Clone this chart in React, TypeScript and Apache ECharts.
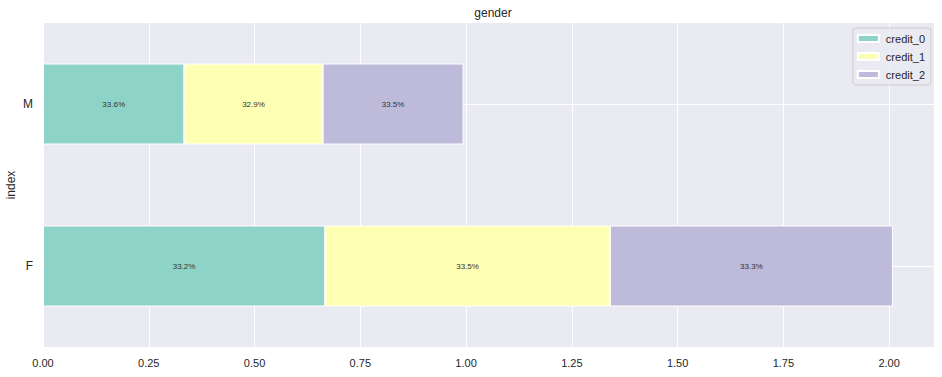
import React, { useEffect, useRef } from "react";
import * as echarts from "echarts";

const categories = ["F", "M"];
const seriesNames = ["credit_0", "credit_1", "credit_2"];
const credit0 = [0.667, 0.334];
const credit1 = [0.673, 0.327];
const credit2 = [0.669, 0.333];
const pct0 = ["33.2%", "33.6%"];
const pct1 = ["33.5%", "32.9%"];
const pct2 = ["33.3%", "33.5%"];
const xTicks = [0, 0.25, 0.5, 0.75, 1.0, 1.25, 1.5, 1.75, 2.0];
const colors = ["#8dd3c7", "#ffffb3", "#bebada"];

const FONT = "Liberation Sans";

export default function App() {
  const ref = useRef<HTMLDivElement>(null);
  useEffect(() => {
    document.body.style.margin = "0";
    const chart = echarts.init(ref.current!, null, { renderer: "svg" });
    const values = [credit0, credit1, credit2];
    const pcts = [pct0, pct1, pct2];
    chart.setOption({
      animation: false,
      textStyle: { fontFamily: FONT },
      title: {
        text: "gender",
        left: 488,
        textAlign: "center",
        top: 2,
        textStyle: { fontSize: 12, fontWeight: "normal", color: "#262626", fontFamily: FONT },
      },
      legend: {
        orient: "vertical",
        right: 11,
        top: 28,
        itemWidth: 21,
        itemHeight: 7,
        itemGap: 7,
        padding: [5, 6, 5, 4],
        backgroundColor: "rgba(234,234,242,0.8)",
        borderColor: "#cccccc",
        borderWidth: 1,
        borderRadius: 3,
        icon: "rect",
        textStyle: { fontSize: 11, color: "#262626", fontFamily: FONT, padding: [0, 0, 0, 2] },
        data: seriesNames,
      },
      grid: {
        left: 43,
        right: 8,
        top: 23,
        bottom: 30,
        show: true,
        backgroundColor: "#eaeaf2",
        borderWidth: 0,
        containLabel: false,
        outerBoundsMode: "none",
      },
      xAxis: {
        type: "value",
        min: 0,
        max: 2.106,
        interval: 0.25,
        axisLine: { show: false },
        axisTick: { show: false },
        splitLine: { show: true, lineStyle: { color: "#ffffff", width: 1 } },
        axisLabel: {
          showMaxLabel: false,
          margin: 10,
          fontSize: 11,
          color: "#262626",
          fontFamily: FONT,
          formatter: (v: number) =>
            xTicks.some((t) => Math.abs(t - v) < 1e-6) ? v.toFixed(2) : "",
        },
      },
      yAxis: {
        type: "category",
        data: categories,
        name: "index",
        nameLocation: "middle",
        nameGap: 26,
        nameMoveOverlap: false,
        nameTextStyle: { fontSize: 12, color: "#262626", fontFamily: FONT },
        axisLine: { show: false },
        axisTick: { show: false },
        splitLine: { show: true, alignWithLabel: true, lineStyle: { color: "#ffffff", width: 1 } },
        axisLabel: { margin: 10, fontSize: 12, color: "#262626", fontFamily: FONT },
      },
      series: seriesNames.map((name, i) => ({
        name,
        type: "bar",
        stack: "total",
        barWidth: "50%",
        itemStyle: { color: colors[i], borderColor: "#ffffff", borderWidth: 1 },
        label: {
          show: true,
          position: "inside",
          fontSize: 8,
          color: "#333333",
          fontFamily: FONT,
          formatter: (p: any) => pcts[i][p.dataIndex],
        },
        data: values[i],
      })),
    });
    return () => chart.dispose();
  }, []);
  return <div ref={ref} style={{ width: 942, height: 377 }} />;
}
